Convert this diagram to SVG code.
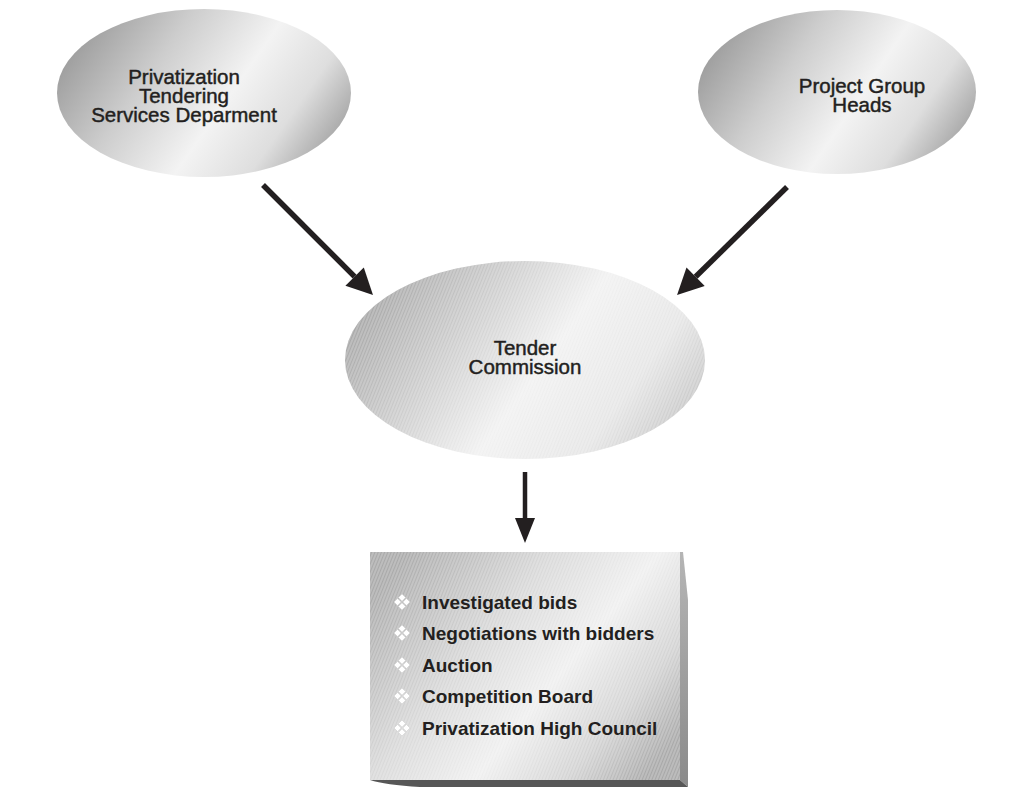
<svg xmlns="http://www.w3.org/2000/svg" width="1026" height="787" viewBox="0 0 1026 787">
  <defs>
    <style>
      .label { font-family: "Liberation Sans", Arial, Helvetica, sans-serif; fill: #231f20; }
      .node-title { font-size: 20.5px; text-anchor: middle; stroke: #231f20; stroke-width: 0.45px; }
      .item { font-size: 19px; font-weight: bold; }
      .connector { stroke: #231f20; fill: none; }
    </style>
    <!-- metallic sheen for the oval nodes -->
    <linearGradient id="sheen" x1="0" y1="0.3" x2="1" y2="0.7">
      <stop offset="0" stop-color="#9a9a9a"/>
      <stop offset="0.3" stop-color="#cdcdcd"/>
      <stop offset="0.58" stop-color="#f3f3f3"/>
      <stop offset="0.8" stop-color="#dedede"/>
      <stop offset="1" stop-color="#a2a2a2"/>
    </linearGradient>
    <linearGradient id="sheenHub" x1="0" y1="0.3" x2="1" y2="0.7">
      <stop offset="0" stop-color="#a2a2a2"/>
      <stop offset="0.35" stop-color="#d4d4d4"/>
      <stop offset="0.55" stop-color="#f1f1f1"/>
      <stop offset="0.8" stop-color="#e6e6e6"/>
      <stop offset="1" stop-color="#c4c4c4"/>
    </linearGradient>
    <linearGradient id="panelFace" x1="0" y1="0.2" x2="1" y2="0.8">
      <stop offset="0" stop-color="#a9a9a9"/>
      <stop offset="0.35" stop-color="#d8d8d8"/>
      <stop offset="0.6" stop-color="#efefef"/>
      <stop offset="0.82" stop-color="#d2d2d2"/>
      <stop offset="1" stop-color="#a8a8a8"/>
    </linearGradient>
    <linearGradient id="panelSide" x1="0" y1="0" x2="0" y2="1">
      <stop offset="0" stop-color="#b5b5b5"/>
      <stop offset="1" stop-color="#8a8a8a"/>
    </linearGradient>
    <!-- fine diagonal print hatching -->
    <pattern id="hatch" width="3" height="3" patternUnits="userSpaceOnUse" patternTransform="rotate(22)">
      <line x1="1" y1="0" x2="1" y2="3" stroke="#ffffff" stroke-width="1" stroke-opacity="0.45"/>
    </pattern>
    <!-- four-diamond bullet -->
    <g id="bullet">
      <path d="M0,-8 L3.6,-4.4 L0,-0.8 L-3.6,-4.4 Z M0,0.8 L3.6,4.4 L0,8 L-3.6,4.4 Z M-8,0 L-4.4,-3.6 L-0.8,0 L-4.4,3.6 Z M8,0 L4.4,-3.6 L0.8,0 L4.4,3.6 Z" fill="#ffffff" stroke="#d0d0d0" stroke-width="0.6"/>
    </g>
    <marker id="headDiag" markerUnits="userSpaceOnUse" markerWidth="28" markerHeight="28" viewBox="0 -14 27 28" refX="0" refY="0" orient="auto">
      <path d="M0,-13 L26,0 L0,13 Z" fill="#231f20"/>
    </marker>
    <marker id="headDown" markerUnits="userSpaceOnUse" markerWidth="26" markerHeight="22" viewBox="0 -11 26 22" refX="0" refY="0" orient="auto">
      <path d="M0,-10 L25,0 L0,10 Z" fill="#231f20"/>
    </marker>
  </defs>

  <rect width="1026" height="787" fill="#ffffff"/>

  <!-- Connectors -->
  <g id="connectors">
    <line class="connector" x1="263" y1="185" x2="354.6" y2="276.6" stroke-width="5.5" marker-end="url(#headDiag)"/>
    <line class="connector" x1="787" y1="187" x2="695.6" y2="276.8" stroke-width="5.5" marker-end="url(#headDiag)"/>
    <line class="connector" x1="525" y1="472" x2="525" y2="518" stroke-width="4.5" marker-end="url(#headDown)"/>
  </g>

  <!-- Privatization Tendering Services Department -->
  <g id="node-tendering-services">
    <ellipse cx="204" cy="93" rx="147" ry="84" fill="url(#sheen)"/>
    <text class="label node-title" x="184" y="84">Privatization<tspan x="184" dy="19">Tendering</tspan><tspan x="184" dy="19">Services Deparment</tspan></text>
  </g>

  <!-- Project Group Heads -->
  <g id="node-project-group">
    <ellipse cx="837" cy="92" rx="139" ry="82" fill="url(#sheen)"/>
    <text class="label node-title" x="862" y="93">Project Group<tspan x="862" dy="19">Heads</tspan></text>
  </g>

  <!-- Tender Commission -->
  <g id="node-tender-commission">
    <ellipse cx="525" cy="360" rx="180" ry="99" fill="url(#sheenHub)"/>
    <ellipse cx="525" cy="360" rx="180" ry="99" fill="url(#hatch)"/>
    <text class="label node-title" x="525" y="355">Tender<tspan x="525" dy="19">Commission</tspan></text>
  </g>

  <!-- Outcome panel -->
  <g id="node-outcomes">
    <path d="M680,552 L683,552 L688,600 L688,787 L680,780 Z" fill="url(#panelSide)"/>
    <path d="M370,780 L680,780 L688,787 L420,787 Q385,785 370,780 Z" fill="#575757"/>
    <rect x="370" y="552" width="310" height="228" fill="url(#panelFace)"/>
    <rect x="370" y="552" width="310" height="228" fill="url(#hatch)"/>
    <use href="#bullet" x="402" y="602"/>
    <use href="#bullet" x="402" y="633"/>
    <use href="#bullet" x="402" y="665"/>
    <use href="#bullet" x="402" y="696"/>
    <use href="#bullet" x="402" y="728"/>
    <text class="label item" x="422" y="609">Investigated bids</text>
    <text class="label item" x="422" y="640">Negotiations with bidders</text>
    <text class="label item" x="422" y="672">Auction</text>
    <text class="label item" x="422" y="703">Competition Board</text>
    <text class="label item" x="422" y="735">Privatization High Council</text>
  </g>
</svg>
